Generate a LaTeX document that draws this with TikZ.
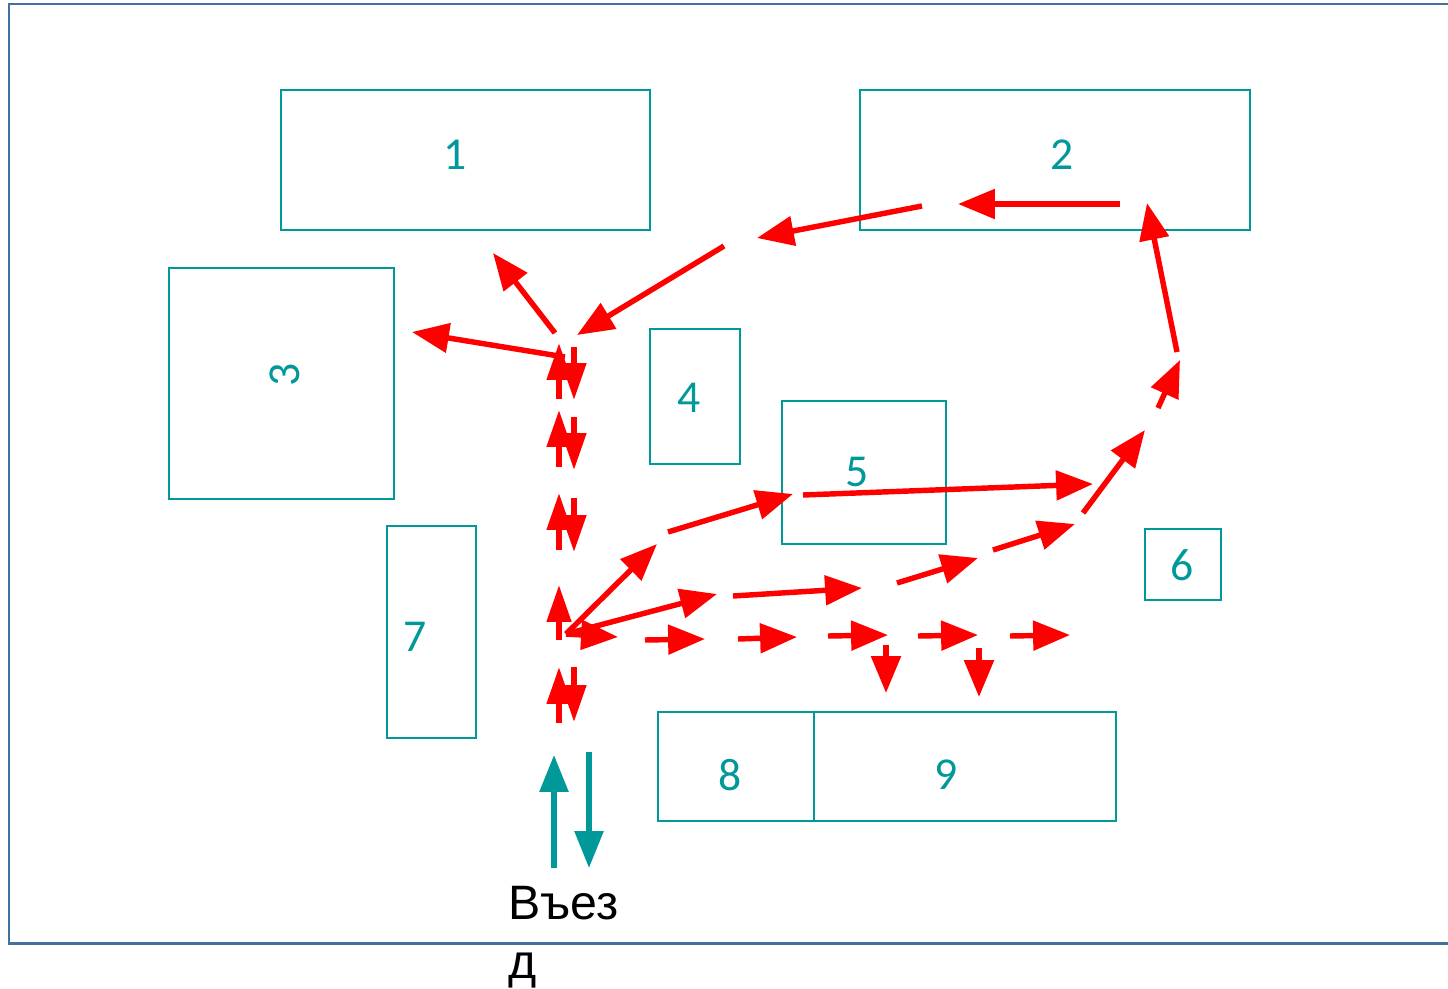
\documentclass[tikz,border=0pt]{standalone}
\usepackage{fontspec}
\setmainfont{Carlito}
\newfontfamily\arialfont{Liberation Sans}
\usetikzlibrary{arrows.meta}
\definecolor{teal2}{RGB}{0,152,152}
\definecolor{framecol}{RGB}{65,113,156}

\begin{document}
\begin{tikzpicture}[
x=0.02cm, y=-0.02cm,
Building/.style={draw=teal2,line width=1.4pt},
Num/.style={text=teal2,font=\fontsize{26}{30}\selectfont,inner sep=0pt},
Route/.style={draw=red,line width=3.1pt,-{Triangle[length=21pt,width=16.5pt]}},
Lane/.style={draw=red,line width=3.1pt,-{Triangle[length=21pt,width=13.5pt]}},
Entry/.style={draw=teal2,line width=3pt,-{Triangle[length=21pt,width=16pt]}}
]
\useasboundingbox (0,0) rectangle (1448,988);

% frame of the site
\draw[framecol,line width=1.7pt] (1460,4) -- (9,4) -- (9,943) -- (1460,943);

% buildings
\draw[Building] (281,90) rectangle (650,230);
\draw[Building] (860,90) rectangle (1250,230);
\draw[Building] (169,268) rectangle (394,499);
\draw[Building] (650,329) rectangle (740,464);
\draw[Building] (782,401) rectangle (946,544);
\draw[Building] (1145,529) rectangle (1221,600);
\draw[Building] (387,526) rectangle (476,738);
\draw[Building] (658,712) rectangle (814,821);
\draw[Building] (814,712) rectangle (1116,821);

\node[Num] (n1) at (455,155) {1};
\node[Num] (n2) at (1062,155) {2};
\node[Num,rotate=90] (n3) at (285,375) {3};
\node[Num] (n4) at (689,398) {4};
\node[Num] (n5) at (857,472) {5};
\node[Num] (n6) at (1182,565) {6};
\node[Num] (n7) at (415,637) {7};
\node[Num] (n8) at (730,775) {8};
\node[Num] (n9) at (946,775) {9};

% main lane, both directions
\foreach \ya/\yb in {399/343, 467/410, 550/493, 640/585, 723/667}
  \draw[Lane] (559,\ya) -- (559,\yb);
\foreach \ya/\yb in {347/400, 417/470, 498/552, 667/722}
  \draw[Lane] (574,\ya) -- (574,\yb);

% junction
\coordinate (J) at (566,634);

% lower row to 8 and 9
\draw[Route] (J) -- (618,637);
\draw[Route] (645,640) -- (705,639);
\draw[Route] (738,639) -- (797,637);
\draw[Route] (828,636) -- (888,635);
\draw[Route] (918,636) -- (978,635);
\draw[Route] (1010,636) -- (1070,635);
\draw[Route] (886,645) -- (886,693);
\draw[Route] (979,648) -- (979,697);

% route past 5 to 2
\draw[Route] (J) -- (657,544);
\draw[Route] (668,532) -- (793,494);
\draw[Route] (803,495) -- (1093,484);
\draw[Route] (J) -- (717,594);
\draw[Route] (733,596) -- (862,588);
\draw[Route] (897,583) -- (978,558);
\draw[Route] (993,550) -- (1075,524);
\draw[Route] (1083,513) -- (1145,430);
\draw[Route] (1158,408) -- (1180,360);
\draw[Route] (1177,352) -- (1147,203);

% back from 2
\draw[Route] (1120,204) -- (958,204);
\draw[Route] (922,206) -- (757,238);
\draw[Route] (724,246) -- (577,335);

% to 1 and 3
\draw[Route] (555,333) -- (493,253);
\draw[Route] (565,357) -- (412,332);

% entry
\draw[Entry] (554,868) -- (554,755);
\draw[Entry] (589,752) -- (589,868);
\node[anchor=north west,align=left,inner sep=0pt,font=\arialfont\fontsize{27.5}{33.5}\selectfont]
  (entry) at (508,886) {Въез\\д};
\end{tikzpicture}
\end{document}
